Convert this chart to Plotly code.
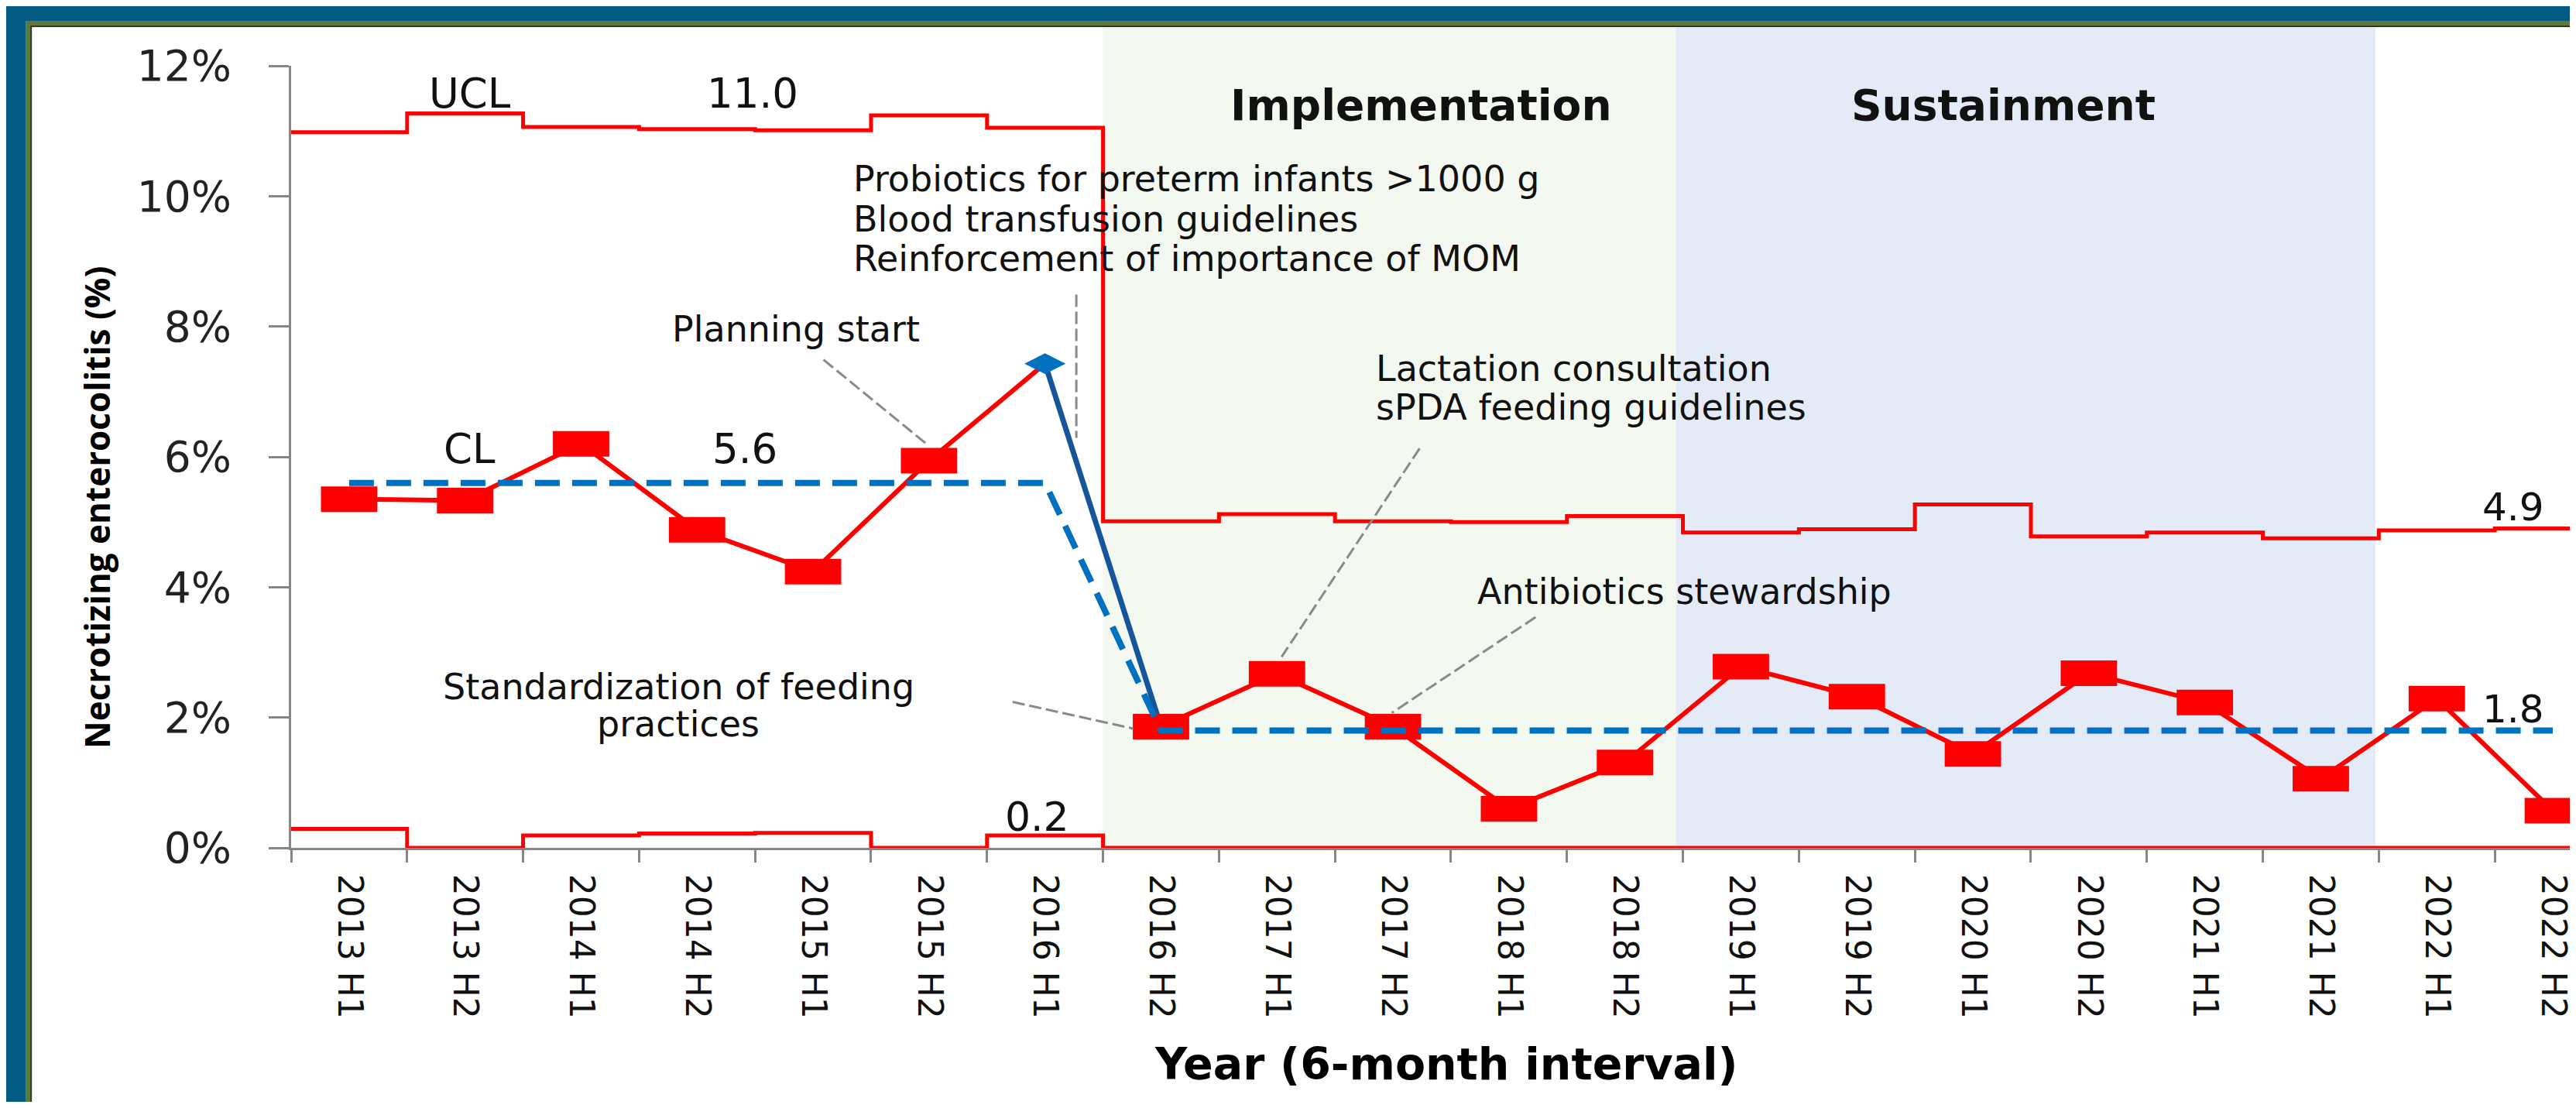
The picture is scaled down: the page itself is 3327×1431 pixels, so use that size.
import plotly.graph_objects as go

# half-year periods
periods = ["2013 H1", "2013 H2", "2014 H1", "2014 H2", "2015 H1", "2015 H2",
           "2016 H1", "2016 H2", "2017 H1", "2017 H2", "2018 H1", "2018 H2",
           "2019 H1", "2019 H2", "2020 H1", "2020 H2", "2021 H1", "2021 H2",
           "2022 H1", "2022 H2"]

# NEC rate (%) per period
nec_rate = [5.35, 5.33, 6.20, 4.88, 4.24, 5.94, 7.43, 1.86, 2.67, 1.86,
            0.60, 1.31, 2.78, 2.32, 1.44, 2.68, 2.23, 1.06, 2.29, 0.57]

# control limits
ucl = [10.98, 11.27, 11.06, 11.03, 11.01, 11.24, 11.05, 5.01, 5.12, 5.01,
       5.00, 5.09, 4.84, 4.89, 5.27, 4.78, 4.84, 4.75, 4.87, 4.90]
lcl = [0.29, 0.00, 0.19, 0.22, 0.23, 0.00, 0.19, 0.00, 0.00, 0.00,
       0.00, 0.00, 0.00, 0.00, 0.00, 0.00, 0.00, 0.00, 0.00, 0.00]
cl = [5.6, 5.6, 5.6, 5.6, 5.6, 5.6, 5.6, 1.8, 1.8, 1.8,
      1.8, 1.8, 1.8, 1.8, 1.8, 1.8, 1.8, 1.8, 1.8, 1.8]

y_tick_vals = [0, 2, 4, 6, 8, 10, 12]
y_tick_text = ["0%", "2%", "4%", "6%", "8%", "10%", "12%"]

shift_idx = 6  # last baseline point (2016 H1), drawn as a diamond

idx = list(range(len(periods)))
edges = [i - 0.5 for i in range(len(periods) + 1)]

RED = "#ff0000"
BLUE = "#0070c0"
NAVY = "#17559a"
GREY = "#868686"
FRAME = "#045c84"
OLIVE = "#5d7a3a"
TXT = "DejaVu Sans"

fig = go.Figure()

# UCL / LCL as steps across each period
fig.add_trace(go.Scatter(x=edges, y=ucl + [ucl[-1]], mode="lines",
                         line=dict(color=RED, width=5, shape="hv")))
fig.add_trace(go.Scatter(x=edges, y=lcl + [lcl[-1]], mode="lines",
                         line=dict(color=RED, width=5, shape="hv")))

# data line, before and after the shift
fig.add_trace(go.Scatter(x=idx[:shift_idx + 1], y=nec_rate[:shift_idx + 1], mode="lines",
                         line=dict(color=RED, width=6)))
fig.add_trace(go.Scatter(x=idx[shift_idx + 1:], y=nec_rate[shift_idx + 1:], mode="lines",
                         line=dict(color=RED, width=6)))
fig.add_trace(go.Scatter(x=idx[shift_idx:shift_idx + 2], y=nec_rate[shift_idx:shift_idx + 2],
                         mode="lines", line=dict(color=NAVY, width=7)))

# rectangular markers (wide "line-ew" with a thick stroke)
mk_x = [i for i in idx if i != shift_idx]
mk_y = [nec_rate[i] for i in mk_x]
fig.add_trace(go.Scatter(x=mk_x, y=mk_y, mode="markers",
                         marker=dict(symbol="line-ew", size=52, color=RED,
                                     line=dict(color=RED, width=33))))
fig.add_trace(go.Scatter(x=[idx[shift_idx]], y=[nec_rate[shift_idx]], mode="markers",
                         marker=dict(symbol="diamond-wide", size=38, color=BLUE,
                                     line=dict(width=0))))

# centre line
fig.add_trace(go.Scatter(x=idx, y=cl, mode="lines",
                         line=dict(color=BLUE, width=8, dash="32px,16px")))

shapes = [
    # slide frame: blue top + left bands, olive trim, thin dark edge
    dict(type="rect", xref="paper", yref="paper", x0=-0.2, x1=1.1, y0=1.0574, y1=1.2,
         fillcolor=FRAME, line=dict(width=0), layer="below"),
    dict(type="rect", xref="paper", yref="paper", x0=-0.2, x1=-0.1162, y0=-0.5, y1=1.2,
         fillcolor=FRAME, line=dict(width=0), layer="below"),
    dict(type="rect", xref="paper", yref="paper", x0=-0.1162, x1=1.1, y0=-0.5, y1=1.0574,
         fillcolor=OLIVE, line=dict(width=0), layer="below"),
    dict(type="rect", xref="paper", yref="paper", x0=-0.1138, x1=1.1, y0=-0.5, y1=1.0505,
         fillcolor="white", line=dict(color="#333333", width=2), layer="below"),
    # phases
    dict(type="rect", xref="x", yref="paper", x0=6.5, x1=11.44, y0=0, y1=1.0495,
         fillcolor="#f3f8f0", line=dict(width=0), layer="below"),
    dict(type="rect", xref="x", yref="paper", x0=11.44, x1=17.47, y0=0, y1=1.0495,
         fillcolor="#e4ebf6", line=dict(width=0), layer="below"),
]

# grey dashed leader lines for the interventions
leaders = [
    (4.09, 7.49, 4.99, 6.18),
    (6.27, 8.49, 6.27, 6.29),
    (9.23, 6.13, 8.04, 2.93),
    (10.23, 3.54, 8.99, 2.07),
    (5.72, 2.24, 6.76, 1.83),
]
for x0, y0, x1, y1 in leaders:
    shapes.append(dict(type="line", xref="x", yref="y", x0=x0, y0=y0, x1=x1, y1=y1,
                       line=dict(color="#8a8a8a", width=3, dash="16px,6px")))


def note(text, x, y, size=46, bold=False, xanchor="center"):
    return dict(text=("<b>%s</b>" % text) if bold else text, x=x, y=y,
                xref="x", yref="y", showarrow=False, xanchor=xanchor, yanchor="middle",
                font=dict(family=TXT, size=size, color="#111111"))


annotations = [
    note("UCL", 1.04, 11.58, 53),
    note("11.0", 3.48, 11.58, 53),
    note("CL", 1.04, 6.12, 53),
    note("5.6", 3.41, 6.12, 53),
    note("0.2", 5.93, 0.48, 52),
    note("4.9", 18.66, 5.23, 50),
    note("1.8", 18.66, 2.13, 50),
    note("Implementation", 9.24, 11.39, 55, bold=True),
    note("Sustainment", 14.26, 11.39, 55, bold=True),
    note("Probiotics for preterm infants >1000 g", 4.33, 10.27, xanchor="left"),
    note("Blood transfusion guidelines", 4.33, 9.65, xanchor="left"),
    note("Reinforcement of importance of MOM", 4.33, 9.04, xanchor="left"),
    note("Planning start", 3.85, 7.96),
    note("Lactation consultation", 8.84, 7.35, xanchor="left"),
    note("sPDA feeding guidelines", 8.84, 6.76, xanchor="left"),
    note("Antibiotics stewardship", 11.51, 3.93),
    note("Standardization of feeding", 2.84, 2.47),
    note("practices", 2.84, 1.9),
    dict(text="<b>Necrotizing enterocolitis (%)</b>", xref="paper", yref="paper",
         x=-0.085, y=0.4347, textangle=-90, showarrow=False,
         xanchor="center", yanchor="middle",
         font=dict(family="Open Sans", size=44, color="black")),
    dict(text="<b>Year (6-month interval)</b>", xref="paper", yref="paper",
         x=0.5056, y=-0.276, showarrow=False, xanchor="center", yanchor="middle",
         font=dict(family=TXT, size=57, color="black")),
]

# page body has an 8px margin, so the figure is sized to fit the window without scrollbars
fig.update_layout(
    width=3319, height=1415, autosize=False,
    margin=dict(l=368, r=0, t=77, b=328),
    paper_bgcolor="white",
    plot_bgcolor="rgba(0,0,0,0)",
    showlegend=False,
    shapes=shapes,
    annotations=annotations,
    xaxis=dict(range=[-0.5, 19.2], tickmode="array", tickvals=idx, ticktext=periods,
               tickangle=90, ticks="", showgrid=False, zeroline=False,
               showline=True, linecolor=GREY, linewidth=3, layer="below traces",
               ticklabelstandoff=22,
               tickfont=dict(family="DejaVu Sans", size=44, color="#111111"),
               minor=dict(tickmode="array", tickvals=edges, ticks="outside",
                          ticklen=16, tickwidth=3, tickcolor=GREY, showgrid=False)),
    yaxis=dict(range=[0, 12], tickmode="array", tickvals=y_tick_vals, ticktext=y_tick_text,
               ticks="outside", ticklen=26, tickwidth=3, tickcolor=GREY,
               showgrid=False, zeroline=False, showline=True, linecolor=GREY, linewidth=3,
               ticklabelstandoff=37, layer="below traces",
               tickfont=dict(family=TXT, size=55, color="#222222")),
)

fig.write_html("out.html")
